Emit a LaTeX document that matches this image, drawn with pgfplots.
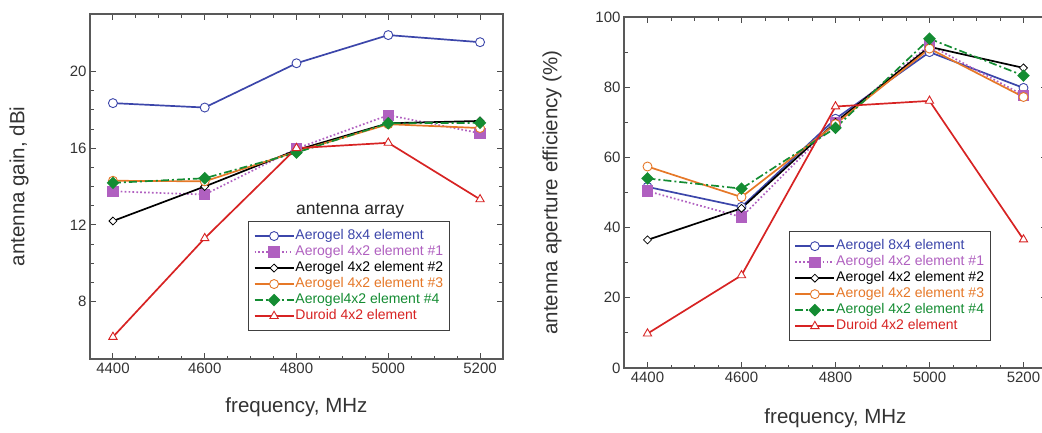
\documentclass[border=0pt]{standalone}
\usepackage{pgfplots}
\pgfplotsset{compat=1.18}
\usepackage{fontspec}
\setmainfont{Liberation Sans}
\definecolor{blueA}{RGB}{60,70,170}
\definecolor{purpleA}{RGB}{176,96,192}
\definecolor{orangeA}{RGB}{230,120,40}
\definecolor{greenA}{RGB}{20,140,50}
\definecolor{redA}{RGB}{215,35,35}
\pgfplotsset{
 mystyle/.style={
  scale only axis,
  xmin=4350,xmax=5250,
  xtick={4400,4600,4800,5000,5200},
  minor x tick num=3,
  tick align=inside,
  major tick length=6pt, minor tick length=3.5pt,
  every tick/.style={color=black!70, line width=0.9pt},
  axis line style={black!65, line width=1.1pt},
  /pgf/number format/assume math mode=true,
  /pgf/number format/1000 sep={},
  tick label style={font=\fontsize{15}{18}\selectfont, text=black!80},
  label style={font=\fontsize{20.5}{24}\selectfont, text=black!80},
  legend cell align=left,
  legend style={draw=black!75, line width=1.1pt, font=\fontsize{14}{16}\selectfont,
    nodes={inner sep=1pt, text height=10pt, text depth=3pt}, row sep=1pt,
    inner xsep=5pt, inner ysep=7pt},
  legend image code/.code={\draw[mark repeat=2,mark phase=2] plot coordinates {(0pt,0pt) (19.5pt,0pt) (39pt,0pt)};},
 },
 s1/.style={blueA, line width=1.7pt, mark=*, mark size=4.5pt, mark options={fill=white, line width=0.9pt, solid}},
 s2/.style={purpleA, line width=1.7pt, dash pattern=on 1.7pt off 2.2pt, mark=square*, mark size=4.8pt, mark options={fill=purpleA, solid}},
 s3/.style={black, line width=1.7pt, mark=square*, mark size=2.8pt, mark options={fill=white, line width=0.8pt, solid, rotate=45}},
 s4/.style={orangeA, line width=1.7pt, mark=*, mark size=4.5pt, mark options={fill=white, line width=0.9pt, solid}},
 s5/.style={greenA, line width=1.7pt, dash pattern=on 8pt off 3pt on 2pt off 3pt, mark=square*, mark size=3.6pt, mark options={fill=greenA, solid, rotate=45}},
 s6/.style={redA, line width=1.7pt, mark=triangle*, mark size=4.8pt, mark options={fill=white, line width=0.9pt, solid}},
}
\begin{document}
\begin{tikzpicture}
\begin{axis}[mystyle,
  at={(90pt,73pt)}, anchor=south west,
  width=413pt, height=345pt,
  ymin=5, ymax=23,
  ytick={8,12,16,20}, minor y tick num=3,
  xlabel={frequency, MHz}, ylabel={antenna gain, dBi},
  xlabel style={at={(axis description cs:0.5,-0.139)}, anchor=center},
  ylabel style={at={(axis description cs:-0.172,0.5)}, anchor=center},
  legend style={at={(axis description cs:0.383,0.4)}, anchor=north west},
]
\addplot[s1] coordinates {(4400,18.35) (4600,18.12) (4800,20.43) (5000,21.9) (5200,21.53)};
\addlegendentry{\textcolor{blueA}{Aerogel 8x4 element}}
\addplot[s2] coordinates {(4400,13.75) (4600,13.58) (4800,15.98) (5000,17.72) (5200,16.78)};
\addlegendentry{\textcolor{purpleA}{Aerogel 4x2 element \#1}}
\addplot[s3] coordinates {(4400,12.2) (4600,14.0) (4800,15.9) (5000,17.3) (5200,17.42)};
\addlegendentry{\textcolor{black}{Aerogel 4x2 element \#2}}
\addplot[s4] coordinates {(4400,14.3) (4600,14.27) (4800,15.82) (5000,17.25) (5200,17.05)};
\addlegendentry{\textcolor{orangeA}{Aerogel 4x2 element \#3}}
\addplot[s5] coordinates {(4400,14.19) (4600,14.43) (4800,15.77) (5000,17.3) (5200,17.32)};
\addlegendentry{\textcolor{greenA}{Aerogel4x2 element \#4}}
\addplot[s6] coordinates {(4400,6.15) (4600,11.3) (4800,16.0) (5000,16.28) (5200,13.33)};
\addlegendentry{\textcolor{redA}{Duroid 4x2 element}}
\node[font=\fontsize{17.5}{20}\selectfont, text=black!85] at (axis description cs:0.630,0.430) {antenna array};
\end{axis}
\begin{axis}[mystyle,
  at={(624pt,64pt)}, anchor=south west,
  width=423pt, height=351pt,
  ymin=0, ymax=100,
  ytick={0,20,40,60,80,100}, minor y tick num=1,
  xlabel={frequency, MHz}, ylabel={antenna aperture efficiency (\%)},
  xlabel style={at={(axis description cs:0.5,-0.142)}, anchor=center},
  ylabel style={at={(axis description cs:-0.170,0.5)}, anchor=center},
  legend style={at={(axis description cs:0.390,0.390)}, anchor=north west},
]
\addplot[s1] coordinates {(4400,51.6) (4600,45.9) (4800,71) (5000,90) (5200,79.8)};
\addlegendentry{\textcolor{blueA}{Aerogel 8x4 element}}
\addplot[s2] coordinates {(4400,50.4) (4600,43.0) (4800,70) (5000,92) (5200,77.7)};
\addlegendentry{\textcolor{purpleA}{Aerogel 4x2 element \#1}}
\addplot[s3] coordinates {(4400,36.5) (4600,45.5) (4800,70) (5000,91.5) (5200,85.5)};
\addlegendentry{\textcolor{black}{Aerogel 4x2 element \#2}}
\addplot[s4] coordinates {(4400,57.4) (4600,48.7) (4800,69.5) (5000,91) (5200,77.2)};
\addlegendentry{\textcolor{orangeA}{Aerogel 4x2 element \#3}}
\addplot[s5] coordinates {(4400,54.0) (4600,51.1) (4800,68.4) (5000,93.8) (5200,83.3)};
\addlegendentry{\textcolor{greenA}{Aerogel 4x2 element \#4}}
\addplot[s6] coordinates {(4400,9.8) (4600,26.4) (4800,74.5) (5000,76.1) (5200,36.6)};
\addlegendentry{\textcolor{redA}{Duroid 4x2 element}}
\end{axis}
\pgfresetboundingbox
\path[use as bounding box] (0,0) rectangle (1042pt,432pt);
\end{tikzpicture}
\end{document}
